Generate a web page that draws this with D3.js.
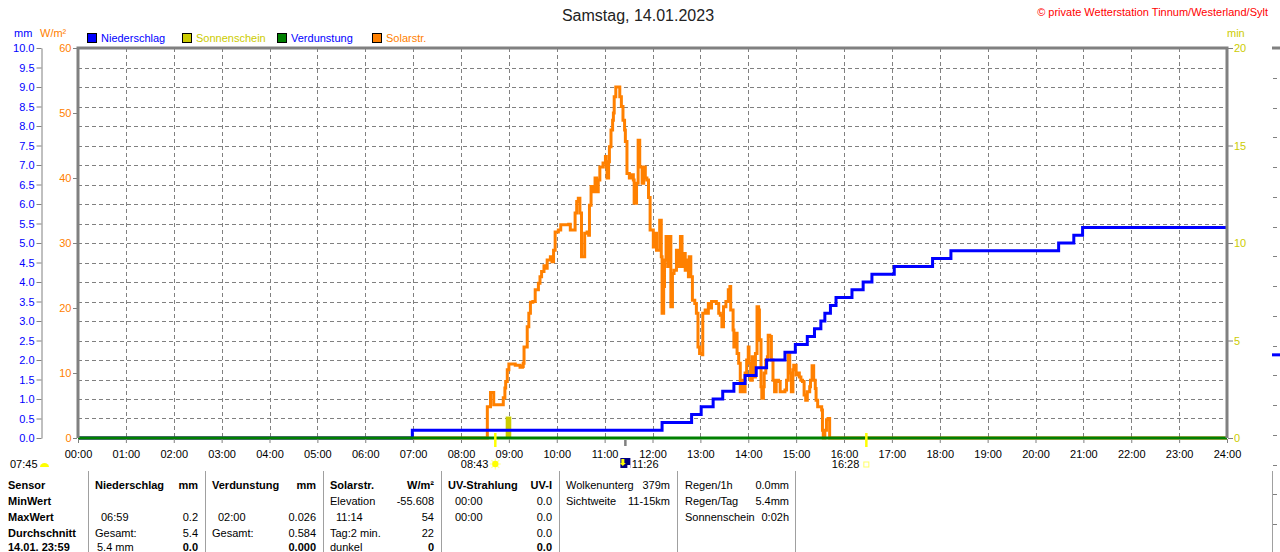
<!DOCTYPE html>
<html>
<head>
<meta charset="utf-8">
<script src="https://cdn.jsdelivr.net/npm/d3@7"></script>
<style>
    body { margin: 0; background: #ffffff; overflow: hidden; }
    svg { display: block; font-family: "Liberation Sans", Arial, sans-serif; }
</style>
</head>
<body>
<svg id="chart"></svg>
<script>
// Tageswerte Samstag 14.01.2023 (Zeit in Minuten seit 00:00)
var hourLabels = ["00:00", "01:00", "02:00", "03:00", "04:00", "05:00", "06:00", "07:00", "08:00", "09:00", "10:00", "11:00", "12:00",
    "13:00", "14:00", "15:00", "16:00", "17:00", "18:00", "19:00", "20:00", "21:00", "22:00", "23:00", "24:00"]
var mmTickLabels = ["0.0", "0.5", "1.0", "1.5", "2.0", "2.5", "3.0", "3.5", "4.0", "4.5", "5.0",
    "5.5", "6.0", "6.5", "7.0", "7.5", "8.0", "8.5", "9.0", "9.5", "10.0"]
var wattTicks = [0, 10, 20, 30, 40, 50, 60]
var minTicks = [0, 5, 10, 15, 20]

// Niederschlag, kumuliert (mm)
var rainTimes = [0, 419, 732, 769, 781, 796, 808, 822, 836, 850, 863, 886, 899, 914, 923, 931, 936, 943, 950,
    970, 984, 995, 1023, 1071, 1094, 1229, 1248, 1259, 1440]
var rainValues = [0, 0.2, 0.4, 0.6, 0.8, 1.0, 1.2, 1.4, 1.6, 1.8, 2.0, 2.2, 2.4, 2.6, 2.8, 3.0, 3.2, 3.4, 3.6,
    3.8, 4.0, 4.2, 4.4, 4.6, 4.8, 5.0, 5.2, 5.4, 5.4]

// Verdunstung (mm)
var evapTimes = [0, 1440]
var evapValues = [0, 0]

// Sonnenschein (min)
var sunshineStart = [536]
var sunshineEnd = [543]
var sunshineValues = [1.1]

// Solarstrahlung (W/m2)
var solarTimes = [0, 512, 513, 517, 520, 521, 532, 533, 535, 536, 538, 540, 548, 554, 557, 558, 559, 563, 565, 567,
    570, 573, 577, 579, 581, 584, 585, 588, 592, 594, 596, 598, 602, 605, 615, 617, 621, 623, 625, 627,
    629, 631, 633, 635, 638, 640, 641, 643, 645, 648, 650, 652, 654, 658, 661, 662, 663, 665, 666, 668,
    670, 671, 672, 674, 677, 679, 681, 683, 685, 686, 688, 688, 691, 694, 696, 697, 700, 702, 704, 707,
    709, 711, 713, 715, 717, 721, 723, 725, 729, 731, 732, 734, 735, 737, 739, 741, 743, 745, 747, 750,
    753, 755, 757, 759, 761, 763, 765, 766, 768, 770, 773, 775, 777, 779, 782, 783, 786, 788, 790, 792,
    794, 798, 800, 803, 805, 807, 809, 812, 815, 817, 818, 821, 822, 825, 826, 828, 830, 832, 834, 836,
    838, 840, 841, 843, 845, 846, 849, 851, 853, 854, 856, 857, 859, 860, 862, 864, 865, 867, 869, 871,
    873, 875, 878, 880, 883, 886, 888, 890, 892, 894, 896, 897, 900, 902, 904, 906, 908, 910, 912, 914,
    917, 918, 920, 922, 924, 925, 927, 930, 932, 933, 934, 936, 938, 940, 942, 1440]
var solarValues = [0, 0, 4.8, 7.0, 7.0, 5.1, 5.1, 6.2, 7.7, 8.7, 10.5, 11.4, 11.2, 10.9, 11.0, 11.5, 14.0, 17.1, 19.2, 20.9,
    21.0, 22.8, 23.8, 24.8, 25.6, 26.5, 26.1, 27.4, 27.9, 27.1, 28.9, 31.7, 32.0, 32.8, 32.9, 32.0, 32.0, 34.6, 36.4, 36.9,
    34.6, 27.9, 27.9, 31.5, 31.7, 31.2, 35.8, 38.7, 37.9, 40.0, 37.9, 39.7, 41.7, 42.3, 43.3, 41.7, 40.0, 42.5, 44.8, 47.4,
    48.9, 50.0, 52.5, 54.0, 54.0, 52.5, 51.0, 48.9, 47.4, 45.6, 43.8, 40.7, 40.0, 40.5, 39.7, 36.1, 39.2, 45.8, 41.7, 39.2,
    41.7, 40.0, 39.7, 37.0, 32.0, 29.4, 31.5, 28.9, 33.5, 27.9, 19.2, 23.3, 27.4, 31.0, 26.4, 31.0, 20.2, 25.3, 25.8, 28.9,
    26.4, 31.0, 26.4, 28.4, 25.8, 27.4, 24.8, 27.9, 24.8, 21.2, 20.7, 19.2, 14.0, 13.0, 12.8, 19.2, 19.7, 19.2, 20.7, 20.0,
    21.0, 21.0, 20.7, 19.2, 18.9, 17.1, 20.2, 21.0, 22.8, 23.3, 19.7, 16.6, 14.0, 16.1, 13.0, 11.5, 7.1, 8.9, 7.1, 10.0,
    12.0, 14.0, 11.5, 8.9, 12.5, 9.4, 13.0, 20.2, 19.7, 15.1, 7.9, 6.1, 7.9, 10.0, 12.0, 12.5, 15.8, 15.6, 12.0, 8.9,
    7.1, 8.9, 8.7, 7.1, 7.1, 7.4, 8.9, 12.8, 10.0, 7.1, 10.5, 11.2, 9.7, 10.0, 9.4, 8.9, 8.7, 6.6, 5.8, 7.1,
    7.9, 8.9, 11.1, 8.9, 7.6, 5.8, 4.8, 4.8, 4.3, 1.2, 0, 1.2, 2.8, 3.0, 0, 0]

// Sonnenauf-/untergang und Mond
var sunriseTime = 523
var sunsetTime = 988
var moonTime = 686
var dawnLabel = "07:45"
var sunriseLabel = "08:43"
var moonLabel = "11:26"
var sunsetLabel = "16:28"

// Nachbar-Diagramm am rechten Rand (angeschnitten)
var nextPanelRain = [5.4]

// Tabelle
var sensorRows = ["Sensor", "MinWert", "MaxWert", "Durchschnitt", "14.01. 23:59"]
var rainTable = [["Niederschlag", "mm"], ["", ""], ["06:59", "0.2"], ["Gesamt:", "5.4"], ["5.4 mm", "0.0"]]
var evapTable = [["Verdunstung", "mm"], ["", ""], ["02:00", "0.026"], ["Gesamt:", "0.584"], ["", "0.000"]]
var solarTable = [["Solarstr.", "W/m²"], ["Elevation", "-55.608"], ["11:14", "54"], ["Tag:2 min.", "22"], ["dunkel", "0"]]
var uvTable = [["UV-Strahlung", "UV-I"], ["00:00", "0.0"], ["00:00", "0.0"], ["", "0.0"], ["", "0.0"]]
var cloudTable = [["Wolkenunterg", "379m"], ["Sichtweite", "11-15km"]]
var dayTable = [["Regen/1h", "0.0mm"], ["Regen/Tag", "5.4mm"], ["Sonnenschein", "0:02h"]]

var dimensions = {
    width: 1280,
    height: 552,
    margin: { top: 48, bottom: 114, left: 78, right: 53 }
}
var plotBottom = dimensions.height - dimensions.margin.bottom
var plotRight = dimensions.width - dimensions.margin.right

var colors = {
    rain: "#0000ff",
    sun: "#cccc00",
    evap: "#008000",
    solar: "#ff8000",
    grid: "#808080"
}

var svg = d3.select("#chart")
    .attr("width", dimensions.width)
    .attr("height", dimensions.height)

var xScale = d3.scaleLinear()
    .domain([0, 1440])
    .range([dimensions.margin.left, plotRight])
var yMm = d3.scaleLinear()
    .domain([0, 10])
    .range([plotBottom, dimensions.margin.top])
var yWatt = d3.scaleLinear()
    .domain([0, 60])
    .range([plotBottom, dimensions.margin.top])
var yMin = d3.scaleLinear()
    .domain([0, 20])
    .range([plotBottom, dimensions.margin.top])

// Titel
svg.append("text")
    .attr("x", 638)
    .attr("y", 21)
    .attr("text-anchor", "middle")
    .style("font-size", "16px")
    .style("fill", "#222")
    .text("Samstag, 14.01.2023")

svg.append("text")
    .attr("x", 1268)
    .attr("y", 16)
    .attr("text-anchor", "end")
    .style("font-size", "11px")
    .style("fill", "#ff0000")
    .text("© private Wetterstation Tinnum/Westerland/Sylt")

// Einheiten
svg.append("text").attr("x", 14).attr("y", 37).style("font-size", "11px").style("fill", colors.rain).text("mm")
svg.append("text").attr("x", 40).attr("y", 37).style("font-size", "11px").style("fill", colors.solar).text("W/m²")
svg.append("text").attr("x", 1227).attr("y", 37).style("font-size", "11px").style("fill", colors.sun).text("min")

// Legende
var legendItems = [
    { name: "Niederschlag", box: colors.rain, text: colors.rain, x: 87 },
    { name: "Sonnenschein", box: colors.sun, text: colors.sun, x: 182 },
    { name: "Verdunstung", box: colors.evap, text: colors.rain, x: 277 },
    { name: "Solarstr.", box: colors.solar, text: colors.solar, x: 372 }
]
var legend = svg.append("g").selectAll("g")
    .data(legendItems)
    .enter()
    .append("g")
    .attr("transform", d => "translate(" + d.x + ",33)")
legend.append("rect")
    .attr("x", 0.5).attr("y", 0.5)
    .attr("width", 9).attr("height", 9)
    .attr("fill", d => d.box)
    .attr("stroke", "#000")
legend.append("text")
    .attr("x", 14)
    .attr("y", 9)
    .style("font-size", "11px")
    .style("fill", d => d.text)
    .text(d => d.name)

// Gitter
var grid = svg.append("g")
    .attr("stroke", colors.grid)
    .attr("stroke-dasharray", "4,3")
    .attr("shape-rendering", "crispEdges")
grid.selectAll(".hgrid")
    .data(d3.range(1, 20).map(d => d * 0.5))
    .enter()
    .append("line")
    .attr("x1", dimensions.margin.left)
    .attr("x2", plotRight)
    .attr("y1", d => Math.round(yMm(d)) + 0.5)
    .attr("y2", d => Math.round(yMm(d)) + 0.5)
grid.selectAll(".vgrid")
    .data(d3.range(1, 24))
    .enter()
    .append("line")
    .attr("x1", d => Math.round(xScale(d * 60)) + 0.5)
    .attr("x2", d => Math.round(xScale(d * 60)) + 0.5)
    .attr("y1", dimensions.margin.top)
    .attr("y2", plotBottom)

// Solarstrahlung
var solarLine = d3.line()
    .x((d, i) => xScale(solarTimes[i]))
    .y(d => yWatt(d))
    .curve(d3.curveStepAfter)
svg.append("path")
    .datum(solarValues)
    .attr("d", solarLine)
    .attr("fill", "none")
    .attr("stroke", colors.solar)
    .attr("stroke-width", 3)

// Sonnenschein
svg.append("g")
    .selectAll("rect")
    .data(sunshineValues)
    .enter()
    .append("rect")
    .attr("x", (d, i) => xScale(sunshineStart[i]))
    .attr("width", (d, i) => xScale(sunshineEnd[i]) - xScale(sunshineStart[i]))
    .attr("y", d => yMin(d))
    .attr("height", d => plotBottom - yMin(d))
    .attr("fill", colors.sun)

// Niederschlag
var rainLine = d3.line()
    .x((d, i) => xScale(rainTimes[i]))
    .y(d => yMm(d))
    .curve(d3.curveStepAfter)
svg.append("path")
    .datum(rainValues)
    .attr("d", rainLine)
    .attr("fill", "none")
    .attr("stroke", colors.rain)
    .attr("stroke-width", 3)

// Verdunstung
var evapLine = d3.line()
    .x((d, i) => xScale(evapTimes[i]))
    .y(d => yMm(d))
svg.append("path")
    .datum(evapValues)
    .attr("d", evapLine)
    .attr("fill", "none")
    .attr("stroke", colors.evap)
    .attr("stroke-width", 3)

// Rahmen
svg.append("path")
    .attr("d", "M" + dimensions.margin.left + "," + plotBottom + "V" + dimensions.margin.top + "H" + plotRight + "V" + plotBottom)
    .attr("fill", "none")
    .attr("stroke", colors.grid)
    .attr("stroke-width", 3)

// Achsen
function styleAxis(g, color) {
    g.selectAll("line").attr("stroke", colors.grid)
    g.selectAll(".domain").attr("stroke", colors.grid)
    g.selectAll("text")
        .style("font-size", "11px")
        .style("font-family", "'Liberation Sans', Arial, sans-serif")
        .attr("fill", color)
}

var mmAxis = d3.axisLeft(yMm)
    .tickValues(mmTickLabels.map(d => +d))
    .tickFormat((d, i) => mmTickLabels[i])
    .tickSize(5)
    .tickSizeOuter(0)
    .tickPadding(2)
svg.append("g")
    .attr("class", "y-axis")
    .attr("transform", "translate(41.5,0)")
    .call(mmAxis)
    .call(g => styleAxis(g, colors.rain))

var wattAxis = d3.axisLeft(yWatt)
    .tickValues(wattTicks)
    .tickSize(4)
    .tickPadding(1.5)
svg.append("g")
    .attr("transform", "translate(77,0)")
    .call(wattAxis)
    .call(g => g.select(".domain").remove())
    .call(g => styleAxis(g, colors.solar))

var minAxis = d3.axisRight(yMin)
    .tickValues(minTicks)
    .tickSize(5)
    .tickPadding(1)
svg.append("g")
    .attr("transform", "translate(1228,0)")
    .call(minAxis)
    .call(g => g.select(".domain").remove())
    .call(g => styleAxis(g, colors.sun))

var xAxis = d3.axisBottom(xScale)
    .tickValues(hourLabels.map((d, i) => i * 60))
    .tickFormat((d, i) => hourLabels[i])
    .tickSize(4)
    .tickPadding(7)
svg.append("g")
    .attr("class", "x-axis")
    .attr("transform", "translate(0," + (plotBottom + 1) + ")")
    .call(xAxis)
    .call(g => g.select(".domain").remove())
    .call(g => styleAxis(g, "#000"))

// Sonnenauf-/untergang Markierungen
svg.append("line")
    .attr("x1", xScale(sunriseTime)).attr("x2", xScale(sunriseTime))
    .attr("y1", 433).attr("y2", 447)
    .attr("stroke", "#ffff00").attr("stroke-width", 2.5)
svg.append("line")
    .attr("x1", xScale(sunsetTime)).attr("x2", xScale(sunsetTime))
    .attr("y1", 433).attr("y2", 447)
    .attr("stroke", "#ffff00").attr("stroke-width", 2.5)
svg.append("line")
    .attr("x1", xScale(moonTime)).attr("x2", xScale(moonTime))
    .attr("y1", 440).attr("y2", 446)
    .attr("stroke", colors.grid).attr("stroke-width", 2.5)

var markerText = svg.append("g")
    .style("font-size", "11px")
    .style("fill", "#000")
markerText.append("text").attr("x", 10).attr("y", 468).text(dawnLabel)
svg.append("path")
    .attr("d", "M40,467 A4.5,4 0 0 1 49,467 Z")
    .attr("fill", "#ffff00")

markerText.append("text")
    .attr("x", xScale(sunriseTime) - 7)
    .attr("y", 468)
    .attr("text-anchor", "end")
    .text(sunriseLabel)
var sunIcon = svg.append("g")
    .attr("transform", "translate(" + xScale(sunriseTime) + ",464)")
sunIcon.selectAll("line")
    .data(d3.range(8))
    .enter()
    .append("line")
    .attr("x1", d => Math.cos(d * Math.PI / 4) * 3)
    .attr("y1", d => Math.sin(d * Math.PI / 4) * 3)
    .attr("x2", d => Math.cos(d * Math.PI / 4) * 5.5)
    .attr("y2", d => Math.sin(d * Math.PI / 4) * 5.5)
    .attr("stroke", "#ffff99")
    .attr("stroke-width", 1.2)
sunIcon.append("circle")
    .attr("r", 3.2)
    .attr("fill", "#ffff00")

var moonX = xScale(moonTime)
svg.append("rect")
    .attr("x", moonX - 5).attr("y", 458)
    .attr("width", 10).attr("height", 10)
    .attr("fill", "#000080")
svg.append("path")
    .attr("d", "M" + (moonX - 4) + ",459 h3 v4 h1.5 l-3,3 l-3,-3 h1.5 Z")
    .attr("fill", "#ffff00")
svg.append("rect")
    .attr("x", moonX + 2).attr("y", 465)
    .attr("width", 3).attr("height", 3)
    .attr("fill", "#ffffff")
markerText.append("text")
    .attr("x", moonX + 6.5)
    .attr("y", 468)
    .text(moonLabel)

markerText.append("text")
    .attr("x", xScale(sunsetTime) - 7)
    .attr("y", 468)
    .attr("text-anchor", "end")
    .text(sunsetLabel)
svg.append("rect")
    .attr("x", xScale(sunsetTime) - 2.5).attr("y", 462)
    .attr("width", 5).attr("height", 5)
    .attr("fill", "none")
    .attr("stroke", "#ffff66")

// Tabelle
var rowY = [489, 505, 521, 536.5, 551]
var separators = [88.5, 205.5, 323.5, 441.5, 559.5, 677.5, 795.5, 1272.5]
svg.append("g")
    .selectAll("line")
    .data(separators)
    .enter()
    .append("line")
    .attr("x1", d => d).attr("x2", d => d)
    .attr("y1", 471).attr("y2", 552)
    .attr("stroke", "#a0a0a0")

var table = svg.append("g").style("font-size", "11px").style("fill", "#000")
table.selectAll(".sensor")
    .data(sensorRows)
    .enter()
    .append("text")
    .attr("x", 8)
    .attr("y", (d, i) => rowY[i])
    .style("font-weight", "bold")
    .text(d => d)

function drawColumn(rows, left, right, indents, boldRows) {
    rows.forEach(function (r, i) {
        table.append("text")
            .attr("x", left + (indents[i] || 0))
            .attr("y", rowY[i])
            .style("font-weight", i == 0 && boldRows.head ? "bold" : "normal")
            .text(r[0])
        table.append("text")
            .attr("x", right)
            .attr("y", rowY[i])
            .attr("text-anchor", "end")
            .style("font-weight", (i == 0 && boldRows.head) || (i == 4 && boldRows.last) ? "bold" : "normal")
            .text(r[1])
    })
}
drawColumn(rainTable, 95, 198, [0, 0, 6, 0, 2], { head: true, last: true })
drawColumn(evapTable, 212, 316, [0, 0, 6, 0, 0], { head: true, last: true })
drawColumn(solarTable, 330, 434, [0, 0, 6, 0, 0], { head: true, last: true })
drawColumn(uvTable, 448, 552, [0, 7, 7, 0, 0], { head: true, last: true })
drawColumn(cloudTable, 566, 670, [0, 0], { head: false, last: false })
drawColumn(dayTable, 685, 789, [0, 0, 0], { head: false, last: false })

// angeschnittenes Nachbar-Diagramm
var nextScale = d3.scaleLinear()
    .domain([0, 1])
    .range([dimensions.margin.top, dimensions.margin.top + 29.75])
svg.append("line")
    .attr("x1", 1272).attr("x2", 1280)
    .attr("y1", 48).attr("y2", 48)
    .attr("stroke", colors.grid).attr("stroke-width", 3)
svg.append("g")
    .selectAll("line")
    .data(d3.range(1, 17))
    .enter()
    .append("line")
    .attr("x1", 1273).attr("x2", 1280)
    .attr("y1", d => Math.round(nextScale(d)) + 0.5)
    .attr("y2", d => Math.round(nextScale(d)) + 0.5)
    .attr("stroke", colors.grid)
    .attr("stroke-dasharray", "4,3")
var nextRain = d3.scaleLinear().domain([0, 10]).range([438, 284])
svg.append("g")
    .selectAll("line")
    .data(nextPanelRain)
    .enter()
    .append("line")
    .attr("x1", 1272).attr("x2", 1280)
    .attr("y1", d => nextRain(d))
    .attr("y2", d => nextRain(d))
    .attr("stroke", colors.rain)
    .attr("stroke-width", 3)
</script>
</body>
</html>
